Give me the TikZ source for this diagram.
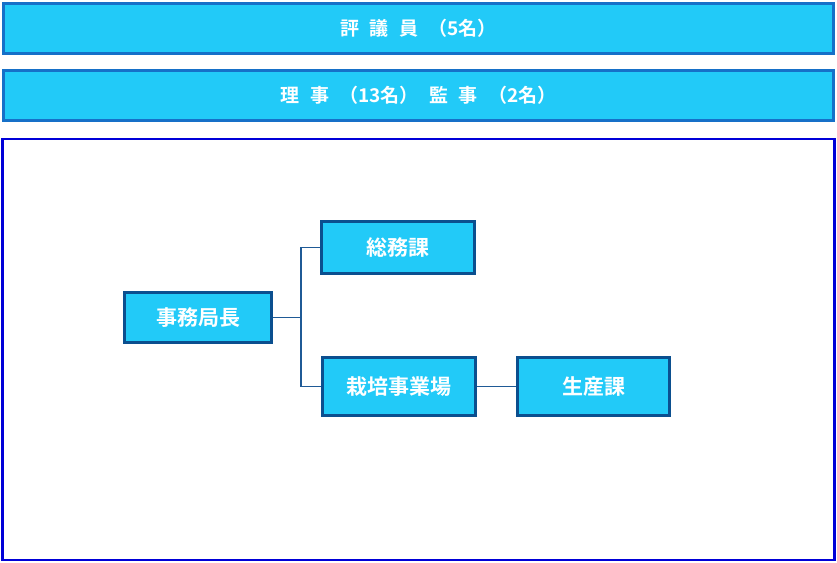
\documentclass[tikz,border=0pt]{standalone}
\usepackage{fontspec}
\setmainfont{Noto Sans CJK JP}[BoldFont={* Bold}]
\usetikzlibrary{positioning}
\definecolor{boxfill}{HTML}{22CAF8}
\definecolor{bandline}{HTML}{1670C8}
\definecolor{unitline}{HTML}{0B4F8F}
\definecolor{frameline}{HTML}{0000D8}
\definecolor{linkline}{HTML}{1F5A96}
\tikzset{
  band/.style = {draw = bandline, line width = 3pt, fill = boxfill, minimum width = 830pt, minimum height = 50pt, text = white, font = \bfseries\fontsize{19}{19}\selectfont},
  unit/.style = {draw = unitline, line width = 3pt, fill = boxfill, minimum height = 50pt, text = white, font = \bfseries\fontsize{21}{21}\selectfont}
  ,link/.style = {draw = linkline, line width = 1.5pt}
}
\newcommand{\gap}{\hspace{0.55em}}
\begin{document}
\begin{tikzpicture}[x = 1pt, y = -1pt]
            \useasboundingbox (0, 0) rectangle (837, 562);
            % upper bands
            \node [band] (council) at (418.5, 28.5) {評\gap 議\gap 員\gap （5名）};
            \node [band] (board) at (418.5, 95.5) {理\gap 事\gap （13名）\gap 監\gap 事\gap （2名）};
            % office frame
            \draw [frameline, line width = 2.5pt, fill = white] (2.5, 139) rectangle (834.5, 560);
            \node [unit, minimum width = 147pt] (chief) at (198, 317.5) {事務局長};
            \node [unit, minimum width = 153pt, minimum height = 52pt] (general) at (398, 247.5) {総務課};
            \node [unit, minimum width = 153pt, minimum height = 58pt] (farm) at (399, 386.5) {栽培事業場};
            \node [unit, minimum width = 152pt, minimum height = 58pt] (produce) at (593.5, 386.5) {生産課};
            \coordinate (fork) at (301, 317.5);
            \draw [link] (chief.east) -- (fork);
            \draw [link] (general.west) -| (fork);
            \draw [link] (farm.west) -| (fork);
            \draw [link] (farm) -- (produce);
        \end{tikzpicture}
\end{document}
